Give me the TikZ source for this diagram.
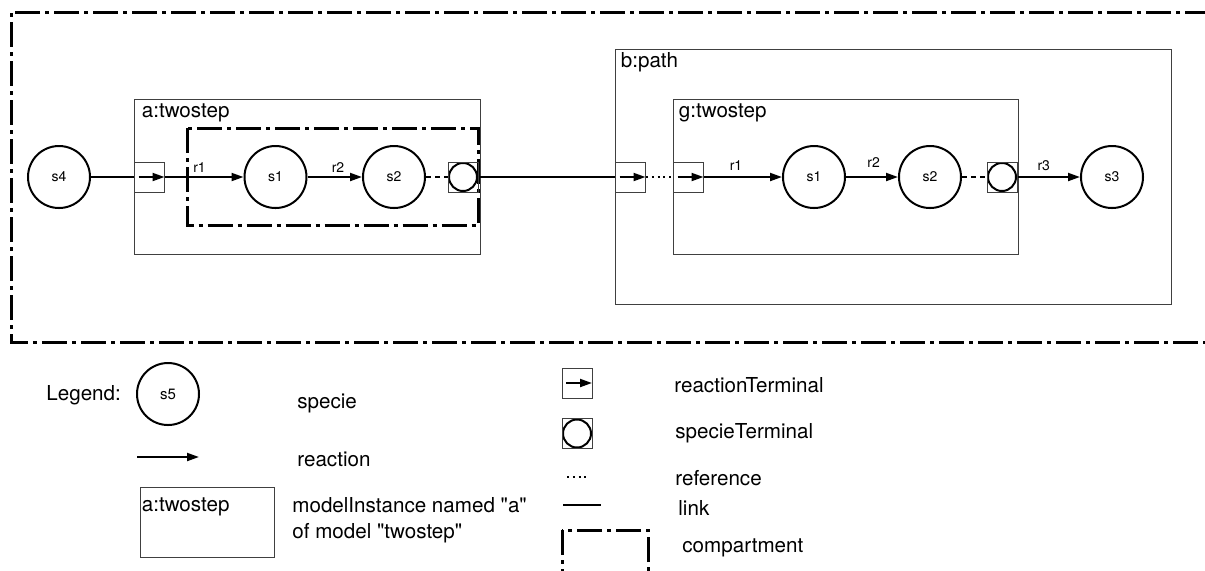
\documentclass[tikz,border=0pt]{standalone}
\usepackage{fontspec}
\setmainfont{TeX Gyre Heros}[Ligatures=TeXOff]
\usetikzlibrary{arrows.meta}

\begin{document}
\begin{tikzpicture}[
    x=0.5pt, y=-0.5pt,
    flow/.style={-{Triangle[length=6pt,width=4pt]}, draw=black, line width=1pt},
    link/.style={line width=1pt},
    dashref/.style={line width=1pt, dash pattern=on 2.5pt off 2pt},
    dotref/.style={line width=1pt, dash pattern=on 1pt off 1.9pt},
    comp/.style={line width=1.5pt, dash pattern=on 12.5pt off 2.5pt on 2pt off 2.5pt},
    specie/.style={circle, draw, line width=1pt, minimum size=31pt, inner sep=0pt,
                   font=\fontsize{7}{8}\selectfont},
    rterm/.style={rectangle, draw=black!75, line width=0.5pt, minimum size=15pt, inner sep=0pt,
                  path picture={\draw[flow] ([xshift=2pt]path picture bounding box.west)
                                -- (path picture bounding box.east);}},
    sterm/.style={rectangle, draw=black!75, line width=0.5pt, minimum size=15pt, inner sep=0pt,
                  path picture={\draw[draw=black, line width=1pt] (path picture bounding box.center)
                                circle[radius=7pt];}},
    inst/.style={rectangle, draw=black!75, line width=0.5pt, inner sep=0pt},
    title/.style={anchor=west, inner sep=0pt, font=\fontsize{10.3}{12}\selectfont},
    note/.style={anchor=west, inner sep=0pt, align=left, font=\fontsize{10.3}{13}\selectfont},
    rlabel/.style={inner sep=0pt, font=\fontsize{7}{8}\selectfont},
]
    \clip (0,0) rectangle (1205,570);

    % instances
    \node[inst, minimum width=173pt, minimum height=77.5pt] (a) at (307,176.5) {};
    \node[title] at ([xshift=4pt,yshift=-7pt]a.north west) {a:twostep};
    \node[inst, minimum width=278pt, minimum height=127.5pt] (b) at (893,176.5) {};
    \node[title] at ([xshift=3pt,yshift=-7pt]b.north west) {b:path};
    \node[inst, minimum width=172.75pt, minimum height=77.5pt] (g) at (845.75,176.5) {};
    \node[title] at ([xshift=3pt,yshift=-7pt]g.north west) {g:twostep};

    % compartments
    \draw[comp] (1210,12) -- (11,12) -- (11,342) -- (1210,342);
    \draw[comp] (187.5,128) rectangle (478,225);

    % species and terminals
    \node[specie] (s4) at (59,177) {s4};
    \node[rterm] (ta) at (149.5,177) {};
    \node[specie] (as1) at (275.5,177) {s1};
    \node[specie] (as2) at (394,177) {s2};
    \node[sterm] (ast) at (463,177) {};
    \node[rterm] (bt) at (630.5,177) {};
    \node[rterm] (gt) at (688.5,177) {};
    \node[specie] (gs1) at (814,177) {s1};
    \node[specie] (gs2) at (930,177) {s2};
    \node[sterm] (gst) at (1002,177) {};
    \node[specie] (s3) at (1112,177) {s3};

    \draw[link] (s4) -- (ta);
    \draw[flow] (ta) -- node[rlabel, pos=0.44, above=2pt] {r1} (as1);
    \draw[flow] (as1) -- node[rlabel, pos=0.56, above=2pt] {r2} (as2);
    \draw[dashref] (as2) -- (ast);
    \draw[link] (ast) -- (bt);
    \draw[dotref] (bt) -- (gt);
    \draw[flow] (gt) -- node[rlabel, pos=0.41, above=3pt] {r1} (gs1);
    \draw[flow] (gs1) -- node[rlabel, pos=0.53, above=4.5pt] {r2} (gs2);
    \draw[dashref] (gs2) -- (gst);
    \draw[flow] (gst) -- node[rlabel, pos=0.42, above=2.5pt] {r3} (s3);

    % legend
    \node[note] (legend) at (46,395) {Legend:};
    \node[specie, font=\fontsize{7.5}{8}\selectfont] (s5) at (168,394) {s5};
    \node[note] at (297,403) {specie};
    \coordinate (reac0) at (137,457);
    \coordinate (reac1) at (199,457);
    \draw[flow] (reac0) -- (reac1);
    \node[note] at (297,459) {reaction};
    \node[inst, minimum width=67pt, minimum height=35pt] (li) at (207,522) {};
    \node[title] at ([xshift=1pt,yshift=-10pt]li.north west) {a:twostep};
    \node[note] at (292,520) {modelInstance named "a"\\of model "twostep"};

    \node[rterm] (lrt) at (577,383) {};
    \node[note] at (674,385) {reactionTerminal};
    \node[sterm] (lst) at (577,433.5) {};
    \node[note] at (675,433) {specieTerminal};
    \coordinate (ref0) at (567,477);
    \coordinate (ref1) at (587,477);
    \draw[dotref, line width=0.6pt] (ref0) -- (ref1);
    \node[note] at (675,478) {reference};
    \coordinate (lnk0) at (563,505);
    \coordinate (lnk1) at (601,505);
    \draw[link] (lnk0) -- (lnk1);
    \node[note] at (678,508) {link};
    \draw[comp] (562,530) rectangle (648,620);
    \node[note] at (682,548) {compartment};

\end{tikzpicture}
\end{document}
